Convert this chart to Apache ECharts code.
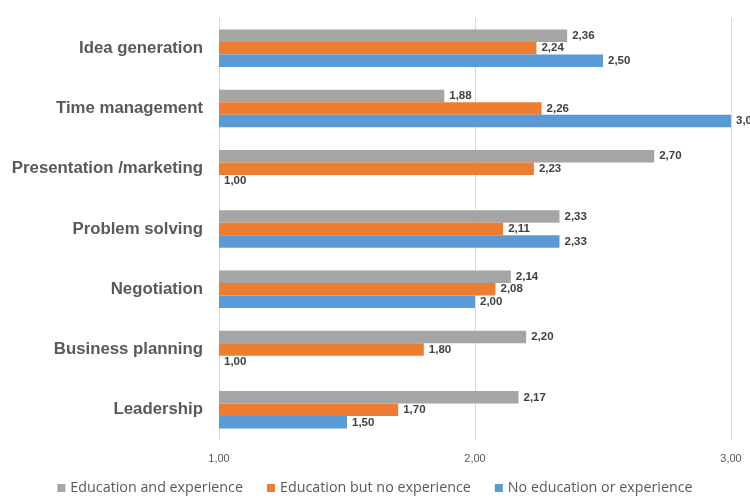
<!DOCTYPE html>
<html><head><meta charset="utf-8">
<script src="https://cdn.jsdelivr.net/npm/echarts@6/dist/echarts.min.js"></script>
<style>html,body{margin:0;padding:0;background:#fff}#c{width:750px;height:496px}</style>
</head><body><div id="c"></div>
<script>
const categories = ['Idea generation','Time management','Presentation /marketing','Problem solving','Negotiation','Business planning','Leadership'];
const eduExp = [2.36,1.88,2.70,2.33,2.14,2.20,2.17];
const eduNoExp = [2.24,2.26,2.23,2.11,2.08,1.80,1.70];
const noEdu = [2.50,3.00,1.00,2.33,2.00,1.00,1.50];
const seriesNames = ['Education and experience','Education but no experience','No education or experience'];
const colors = ['#a5a5a5','#ed7d31','#5b9bd5'];
const xTicks = [1,2,3];

const fmt = v => v.toFixed(2).replace('.', ',');
const lab = "'Liberation Sans',Arial,sans-serif";
const chart = echarts.init(document.getElementById('c'));
const mk = (name, data, color) => ({
  name, type: 'bar', data, barWidth: 12.5, barGap: '0%',
  itemStyle: { color },
  label: { show: true, position: 'right', distance: 5, formatter: p => fmt(p.value),
    fontFamily: lab, fontWeight: 'bold', fontSize: 11.5, color: '#404040' },
  animation: false
});
chart.setOption({
  animation: false,
  grid: { left: 219, right: 19, top: 18, bottom: 56, containLabel: false },
  legend: { top: 476, left: 'center', itemWidth: 8, itemHeight: 8, itemGap: 24, icon: 'rect',
    textStyle: { fontFamily: "'Open Sans',sans-serif", fontSize: 14.3, color: '#595959' },
    data: seriesNames },
  xAxis: { type: 'value', min: xTicks[0], max: xTicks[xTicks.length-1], interval: 1, startValue: 1,
    axisLine: { show: false }, axisTick: { show: false },
    splitLine: { lineStyle: { color: '#d9d9d9', width: 1 } },
    axisLabel: { formatter: v => fmt(v), margin: 13, fontFamily: lab, fontSize: 11, color: '#595959' } },
  yAxis: { type: 'category', data: categories, inverse: true,
    axisLine: { show: false }, axisTick: { show: false },
    axisLabel: { margin: 16, fontFamily: lab, fontWeight: 'bold', fontSize: 16.8, color: '#595959' } },
  series: [mk(seriesNames[0], eduExp, colors[0]), mk(seriesNames[1], eduNoExp, colors[1]), mk(seriesNames[2], noEdu, colors[2])]
});
</script></body></html>
